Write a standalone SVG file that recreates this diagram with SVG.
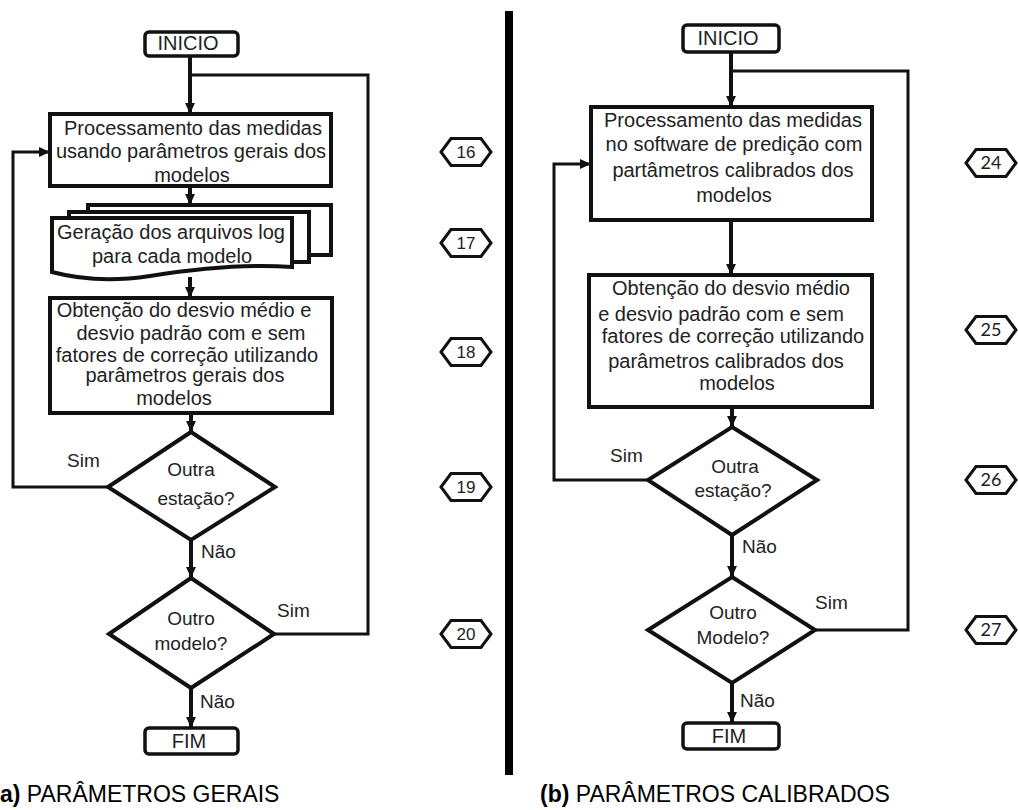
<svg xmlns="http://www.w3.org/2000/svg" width="1018" height="810" viewBox="0 0 1018 810">
  <style>
    .box { fill: #fff; stroke: #111; stroke-width: 4; }
    .term { fill: #fff; stroke: #111; stroke-width: 3.5; }
    .dec { fill: #fff; stroke: #111; stroke-width: 4; stroke-linejoin: miter; }
    .hex { fill: #fff; stroke: #111; stroke-width: 3; }
    .flow { fill: none; stroke: #111; stroke-width: 4; }
    .loop { fill: none; stroke: #111; stroke-width: 3; }
    text { font-family: "Liberation Sans", Arial, sans-serif; fill: #222; }
    .t { font-size: 20px; text-anchor: middle; }
    .d { font-size: 19px; text-anchor: middle; }
    .lbl { font-size: 19px; }
    .num { font-size: 17px; text-anchor: middle; }
    .num2 { font-family: Lato, "Liberation Sans", sans-serif; font-size: 18px; text-anchor: middle; }
    .cap { font-size: 23px; fill: #000; }
  </style>
  <defs>
    <marker id="arrow" viewBox="0 0 10 10" refX="10" refY="5" markerWidth="11" markerHeight="11" markerUnits="userSpaceOnUse" orient="auto">
      <path d="M0,0.5 L10,5 L0,9.5 z" fill="#111"/>
    </marker>
    <polygon id="hexShape" points="-25,0 -15,-13.5 15,-13.5 25,0 15,13.5 -15,13.5"/>
  </defs>

  <rect width="1018" height="810" fill="#fff"/>

  <!-- divider between the two flowcharts -->
  <rect x="505" y="11" width="8" height="764" fill="#000"/>

  <!-- connectors -->
  <g id="connectors">
    <!-- (a) -->
    <line class="flow" x1="190" y1="56" x2="190" y2="114" marker-end="url(#arrow)"/>
    <polyline class="loop" points="190,75 368,75 368,634 274,634"/>
    <line class="flow" x1="190" y1="186" x2="190" y2="205" marker-end="url(#arrow)"/>
    <line class="flow" x1="190" y1="277" x2="190" y2="298" marker-end="url(#arrow)"/>
    <line class="flow" x1="191" y1="413" x2="191" y2="432" marker-end="url(#arrow)"/>
    <line class="flow" x1="191" y1="540" x2="191" y2="578" marker-end="url(#arrow)"/>
    <line class="flow" x1="191" y1="688" x2="191" y2="728" marker-end="url(#arrow)"/>
    <polyline class="loop" points="108,487 13,487 13,152 50,152" marker-end="url(#arrow)"/>
    <!-- (b) -->
    <line class="flow" x1="731" y1="52" x2="731" y2="107" marker-end="url(#arrow)"/>
    <polyline class="loop" points="731,71 908,71 908,630 815,630"/>
    <line class="flow" x1="731" y1="220" x2="731" y2="275" marker-end="url(#arrow)"/>
    <line class="flow" x1="732" y1="407" x2="732" y2="427" marker-end="url(#arrow)"/>
    <line class="flow" x1="732" y1="535" x2="732" y2="577" marker-end="url(#arrow)"/>
    <line class="flow" x1="732" y1="683" x2="732" y2="723" marker-end="url(#arrow)"/>
    <polyline class="loop" points="648,480 554,480 554,164 591,164" marker-end="url(#arrow)"/>
  </g>

  <!-- (a) parâmetros gerais -->
  <g id="a-inicio">
    <rect class="term" x="145" y="32" width="93" height="24" rx="4"/>
    <text class="t" x="188" y="50">INICIO</text>
  </g>
  <g id="a-processamento">
    <rect class="box" x="50" y="114" width="281" height="72"/>
    <text class="t" x="193" y="135">Processamento das medidas</text>
    <text class="t" x="191" y="158">usando parâmetros gerais dos</text>
    <text class="t" x="192" y="182">modelos</text>
  </g>
  <g id="a-arquivos-log">
    <path class="box" d="M88,212 V205 H331 V255 H309"/>
    <path class="box" d="M69,218 V212 H309 V262 H292"/>
    <path class="box" d="M52,218 H292 V267 C250,264 200,268 150,276 C110,282 78,279 52,272 Z"/>
    <text class="t" x="171" y="239">Geração dos arquivos log</text>
    <text class="t" x="172" y="263">para cada modelo</text>
  </g>
  <g id="a-desvio">
    <rect class="box" x="50" y="298" width="282" height="115"/>
    <text class="t" x="184" y="317">Obtenção do desvio médio e</text>
    <text class="t" x="191" y="340">desvio padrão com e sem</text>
    <text class="t" x="187" y="362">fatores de correção utilizando</text>
    <text class="t" x="185" y="382">parâmetros gerais dos</text>
    <text class="t" x="174" y="405">modelos</text>
  </g>
  <g id="a-outra-estacao">
    <polygon class="dec" points="191,432 275,487 191,540 108,487"/>
    <text class="d" x="191" y="476">Outra</text>
    <text class="d" x="196" y="505">estação?</text>
    <text class="lbl" x="67" y="467">Sim</text>
    <text class="lbl" x="201" y="558">Não</text>
  </g>
  <g id="a-outro-modelo">
    <polygon class="dec" points="191,578 274,634 191,688 109,634"/>
    <text class="d" x="191" y="625">Outro</text>
    <text class="d" x="191" y="650">modelo?</text>
    <text class="lbl" x="277" y="617">Sim</text>
    <text class="lbl" x="200" y="708">Não</text>
  </g>
  <g id="a-fim">
    <rect class="term" x="145" y="728" width="93" height="26" rx="4"/>
    <text class="t" x="189" y="748">FIM</text>
  </g>
  <g id="a-steps">
    <use href="#hexShape" class="hex" x="466" y="152"/>
    <text class="num" x="466" y="158">16</text>
    <use href="#hexShape" class="hex" x="466" y="243"/>
    <text class="num" x="466" y="249">17</text>
    <use href="#hexShape" class="hex" x="466" y="352"/>
    <text class="num" x="466" y="358">18</text>
    <use href="#hexShape" class="hex" x="466" y="487"/>
    <text class="num" x="466" y="493">19</text>
    <use href="#hexShape" class="hex" x="466" y="634"/>
    <text class="num" x="466" y="640">20</text>
  </g>
  <g id="a-caption">
    <text class="cap" x="0" y="802"><tspan font-weight="bold">a)</tspan> PARÂMETROS GERAIS</text>
  </g>

  <!-- (b) parâmetros calibrados -->
  <g id="b-inicio">
    <rect class="term" x="683" y="25" width="96" height="27" rx="4"/>
    <text class="t" x="728" y="45">INICIO</text>
  </g>
  <g id="b-processamento">
    <rect class="box" x="591" y="107" width="281" height="113"/>
    <text class="t" x="733" y="127">Processamento das medidas</text>
    <text class="t" x="734" y="151">no software de predição com</text>
    <text class="t" x="733" y="177">partâmetros calibrados dos</text>
    <text class="t" x="734" y="202">modelos</text>
  </g>
  <g id="b-desvio">
    <rect class="box" x="589" y="275" width="283" height="132" stroke-width="5"/>
    <text class="t" x="731" y="295">Obtenção do desvio médio</text>
    <text class="t" x="721" y="321">e desvio padrão com e sem</text>
    <text class="t" x="733" y="343">fatores de correção utilizando</text>
    <text class="t" x="726" y="368">parâmetros calibrados dos</text>
    <text class="t" x="737" y="390">modelos</text>
  </g>
  <g id="b-outra-estacao">
    <polygon class="dec" points="732,427 817,480 732,535 648,480"/>
    <text class="d" x="735" y="473">Outra</text>
    <text class="d" x="733" y="497">estação?</text>
    <text class="lbl" x="610" y="462">Sim</text>
    <text class="lbl" x="742" y="553">Não</text>
  </g>
  <g id="b-outro-modelo">
    <polygon class="dec" points="732,577 815,630 732,683 648,630"/>
    <text class="d" x="733" y="619">Outro</text>
    <text class="d" x="733" y="644">Modelo?</text>
    <text class="lbl" x="815" y="609">Sim</text>
    <text class="lbl" x="740" y="707">Não</text>
  </g>
  <g id="b-fim">
    <rect class="term" x="683" y="723" width="96" height="26" rx="4"/>
    <text class="t" x="729" y="743">FIM</text>
  </g>
  <g id="b-steps">
    <use href="#hexShape" class="hex" x="991" y="163"/>
    <text class="num2" x="991" y="169">24</text>
    <use href="#hexShape" class="hex" x="991" y="330"/>
    <text class="num2" x="991" y="336">25</text>
    <use href="#hexShape" class="hex" x="991" y="480"/>
    <text class="num2" x="991" y="486">26</text>
    <use href="#hexShape" class="hex" x="991" y="630"/>
    <text class="num2" x="991" y="636">27</text>
  </g>
  <g id="b-caption">
    <text class="cap" x="540" y="802"><tspan font-weight="bold">(b)</tspan> PARÂMETROS CALIBRADOS</text>
  </g>
</svg>
